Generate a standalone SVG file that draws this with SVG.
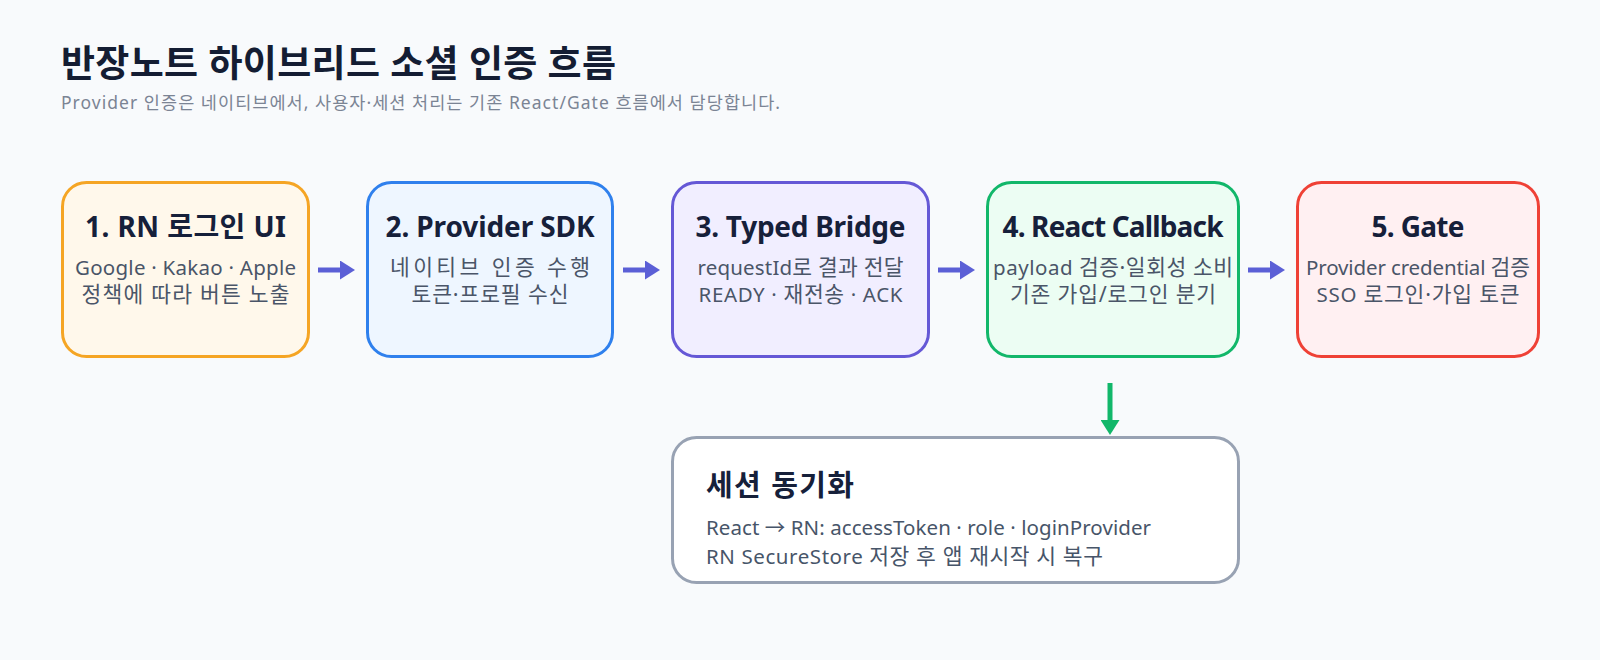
<svg xmlns="http://www.w3.org/2000/svg" width="1600" height="660" viewBox="0 0 1600 660">
<style>
  text { font-family: "Noto Sans", "Noto Sans CJK KR", sans-serif; }
  .h1 { font-size: 37px; font-weight: 700; fill: #141d33; }
  .lead { font-size: 17.5px; fill: #7b8494; }
  .t { font-size: 28px; font-weight: 700; fill: #16203a; text-anchor: middle; }
  .s { font-size: 20.5px; fill: #4a5568; text-anchor: middle; }
  .k { font-size: 21.5px; }
  .bt { font-size: 29px; font-weight: 700; fill: #16203a; }
  .bs { font-size: 20.5px; fill: #475569; }
  .box { stroke-width: 3; }
  .flow { stroke: #5b5fd6; stroke-width: 5; fill: none; }
  .down { stroke: #12b76a; stroke-width: 5; fill: none; }
</style>
<defs>
  <marker id="ah" markerUnits="userSpaceOnUse" markerWidth="16" markerHeight="19" refX="1" refY="9.5" orient="auto">
    <path d="M0,0 L15,9.5 L0,19 z" fill="#5b5fd6"/>
  </marker>
  <marker id="ahg" markerUnits="userSpaceOnUse" markerWidth="16" markerHeight="19" refX="1" refY="9.5" orient="auto">
    <path d="M0,0 L15,9.5 L0,19 z" fill="#12b76a"/>
  </marker>
</defs>
<rect x="0" y="0" width="1600" height="660" fill="#f8fafc"/>

<g id="header">
  <text class="h1" x="61" y="77" textLength="555" lengthAdjust="spacing">반장노트 하이브리드 소셜 인증 흐름</text>
  <text class="lead" x="61" y="109" textLength="719" lengthAdjust="spacing">Provider 인증은 네이티브에서, 사용자·세션 처리는 기존 React/Gate 흐름에서 담당합니다.</text>
</g>

<g id="connectors">
  <line class="flow" x1="318" y1="270" x2="341" y2="270" marker-end="url(#ah)"/>
  <line class="flow" x1="623" y1="270" x2="646" y2="270" marker-end="url(#ah)"/>
  <line class="flow" x1="938" y1="270" x2="961" y2="270" marker-end="url(#ah)"/>
  <line class="flow" x1="1248" y1="270" x2="1271" y2="270" marker-end="url(#ah)"/>
  <line class="down" x1="1110" y1="383" x2="1110" y2="421" marker-end="url(#ahg)"/>
</g>

<g id="node-1">
  <rect class="box" x="62.5" y="182.5" width="246" height="174" rx="24" fill="#fff8eb" stroke="#f5a524"/>
  <text class="t" x="185.5" y="237" textLength="201" lengthAdjust="spacing">1. RN 로그인 UI</text>
  <text class="s" x="185.5" y="275" textLength="221" lengthAdjust="spacing">Google · Kakao · Apple</text>
  <text class="s k" x="185.5" y="302" textLength="208" lengthAdjust="spacing">정책에 따라 버튼 노출</text>
</g>

<g id="node-2">
  <rect class="box" x="367.5" y="182.5" width="245" height="174" rx="24" fill="#eef6ff" stroke="#2f80ed"/>
  <text class="t" x="490" y="237" textLength="209" lengthAdjust="spacing">2. Provider SDK</text>
  <text class="s k" x="490" y="275" textLength="200" lengthAdjust="spacing">네이티브 인증 수행</text>
  <text class="s k" x="490" y="302" textLength="157" lengthAdjust="spacing">토큰·프로필 수신</text>
</g>

<g id="node-3">
  <rect class="box" x="672.5" y="182.5" width="256" height="174" rx="24" fill="#f1eeff" stroke="#6558d6"/>
  <text class="t" x="800.5" y="237" textLength="210" lengthAdjust="spacing">3. Typed Bridge</text>
  <text class="s" x="800.5" y="275" textLength="206" lengthAdjust="spacing">requestId<tspan class="k">로 결과 전달</tspan></text>
  <text class="s" x="800.5" y="302" textLength="204" lengthAdjust="spacing">READY · <tspan class="k">재전송</tspan> · ACK</text>
</g>

<g id="node-4">
  <rect class="box" x="987.5" y="182.5" width="251" height="174" rx="24" fill="#ecfdf3" stroke="#12b76a"/>
  <text class="t" x="1113" y="237" textLength="221" lengthAdjust="spacing">4. React Callback</text>
  <text class="s" x="1113" y="275" textLength="240" lengthAdjust="spacing">payload <tspan class="k">검증·일회성 소비</tspan></text>
  <text class="s k" x="1113" y="302" textLength="206" lengthAdjust="spacing">기존 가입/로그인 분기</text>
</g>

<g id="node-5">
  <rect class="box" x="1297.5" y="182.5" width="241" height="174" rx="24" fill="#fff0f2" stroke="#ef4136"/>
  <text class="t" x="1418" y="237" textLength="93" lengthAdjust="spacing">5. Gate</text>
  <text class="s" x="1418" y="275" textLength="224" lengthAdjust="spacing">Provider credential <tspan class="k">검증</tspan></text>
  <text class="s" x="1418" y="302" textLength="203" lengthAdjust="spacing">SSO <tspan class="k">로그인·가입 토큰</tspan></text>
</g>

<g id="node-session">
  <rect class="box" x="672.5" y="437.5" width="566" height="145" rx="24" fill="#ffffff" stroke="#98a2b3"/>
  <text class="bt" x="706" y="496" textLength="148" lengthAdjust="spacing">세션 동기화</text>
  <text class="bs" x="706" y="535" textLength="445" lengthAdjust="spacing">React → RN: accessToken · role · loginProvider</text>
  <text class="bs" x="706" y="564" textLength="397" lengthAdjust="spacing">RN SecureStore <tspan class="k">저장 후 앱 재시작 시 복구</tspan></text>
</g>
</svg>
